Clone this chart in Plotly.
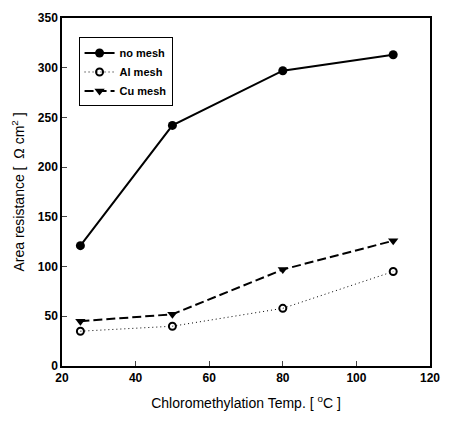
import plotly.graph_objects as go

temps = [25, 50, 80, 110]
no_mesh = [121, 242, 297, 313]
al_mesh = [35, 40, 58, 95]
cu_mesh = [45, 52, 97, 126]
x_ticks = [20, 40, 60, 80, 100, 120]
y_ticks = [0, 50, 100, 150, 200, 250, 300, 350]

fig = go.Figure()
fig.add_trace(go.Scatter(x=temps, y=no_mesh, name="no mesh", mode="lines+markers",
                         line=dict(color="black", width=2, dash="solid"),
                         marker=dict(symbol="circle", size=9, color="black")))
fig.add_trace(go.Scatter(x=temps, y=al_mesh, name="Al mesh", mode="lines+markers",
                         line=dict(color="black", width=1, dash="1px,3px"),
                         marker=dict(symbol="circle-open", size=7, color="black", line=dict(width=2))))
fig.add_trace(go.Scatter(x=temps, y=cu_mesh, name="Cu mesh", mode="lines+markers",
                         line=dict(color="black", width=2, dash="9px,4px"),
                         marker=dict(symbol="triangle-down", size=9, color="black")))

fig.update_layout(
    width=451, height=427,
    margin=dict(l=62, r=13, t=11, b=61),
    paper_bgcolor="white", plot_bgcolor="white",
    font=dict(family="Liberation Sans, Arial, sans-serif", color="black", size=12),
    showlegend=True,
    legend=dict(x=0.045, y=0.944, xanchor="left", yanchor="top",
                bordercolor="black", borderwidth=1, bgcolor="white",
                font=dict(size=11, weight="bold"), tracegroupgap=0, itemwidth=30),
)
fig.update_xaxes(range=[20, 120], tickvals=x_ticks, ticks="inside", ticklen=5,
                 showline=True, linecolor="black", linewidth=1.5, mirror=True,
                 showgrid=False, zeroline=False, ticklabeloverflow="allow",
                 tickfont=dict(size=12, family="Liberation Sans, Arial, sans-serif", weight="bold"),
                 title=dict(text="Chloromethylation Temp. [ <sup>o</sup>C ]", font=dict(size=14), standoff=14))
fig.update_yaxes(range=[0, 350], tickvals=y_ticks, ticks="inside", ticklen=5,
                 showline=True, linecolor="black", linewidth=1.5, mirror=True,
                 showgrid=False, zeroline=False,
                 tickfont=dict(size=12, family="Liberation Sans, Arial, sans-serif", weight="bold"),
                 title=dict(text="Area resistance [  Ω cm<sup>2</sup> ]", font=dict(size=14), standoff=10))

fig.write_html("out.html", config={"displayModeBar": False},
               post_script="document.body.style.margin='0';")
